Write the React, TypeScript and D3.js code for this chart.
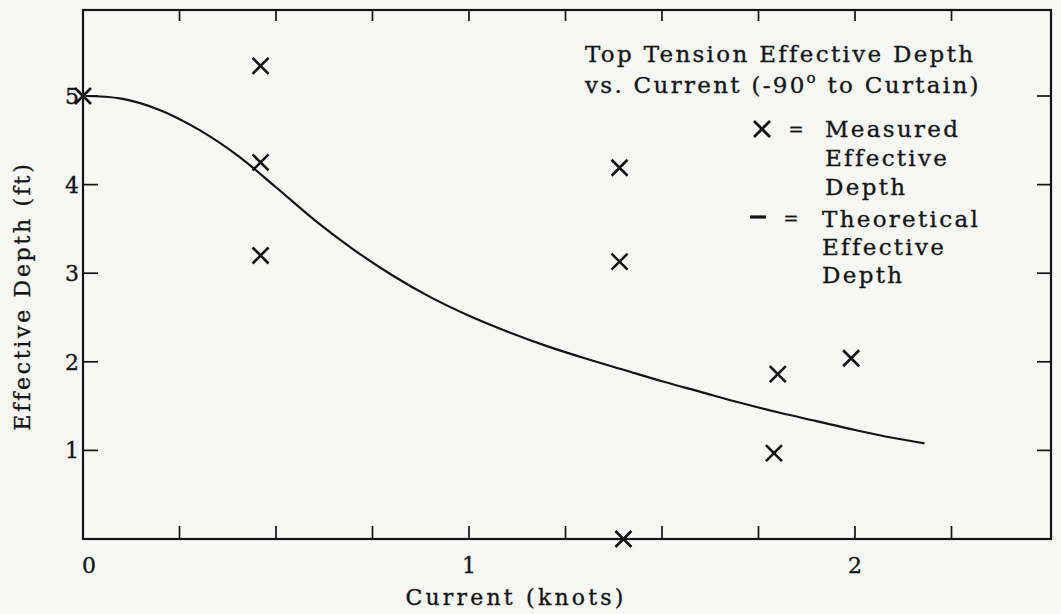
import React, { useEffect } from "react";
import * as d3 from "d3";

// measured points (knots, ft)
const measuredX = [0, 0.46, 0.46, 0.46, 1.39, 1.39, 1.4, 1.8, 1.79, 1.99];
const measuredY = [5.0, 5.34, 4.25, 3.2, 4.19, 3.13, 0.0, 1.86, 0.97, 2.04];

// theoretical curve (knots, ft)
const curveX = [0, 0.1, 0.2, 0.3, 0.4, 0.5, 0.6, 0.7, 0.8, 0.9, 1.0, 1.1, 1.2, 1.3, 1.4, 1.5, 1.6, 1.7, 1.8, 1.9, 2.0, 2.1, 2.18];
const curveY = [5.0, 4.97, 4.84, 4.62, 4.33, 3.97, 3.6, 3.27, 2.98, 2.73, 2.52, 2.34, 2.18, 2.04, 1.91, 1.78, 1.66, 1.54, 1.43, 1.33, 1.23, 1.14, 1.08];

const xTicks = [0.25, 0.5, 0.75, 1, 1.25, 1.5, 1.75, 2, 2.25];
const xLabels = [0, 1, 2];
const yTicks = [1, 2, 3, 4, 5];

const titleLines = ["Top Tension Effective Depth", "vs. Current (-90"];
const legendMeasured = ["Measured", "Effective", "Depth"];
const legendTheory = ["Theoretical", "Effective", "Depth"];

const W = 1061;
const H = 614;
const left = 83;
const right = 1051;
const top = 10;
const bottom = 539;
const ink = "#141414";
const font = "'DejaVu Serif', serif";

const App: React.FC = () => {
  useEffect(() => {
    document.body.style.margin = "0";
  }, []);

  const x = d3.scaleLinear().domain([0, 2]).range([left, 855]);
  const y = d3.scaleLinear().domain([0, 5]).range([bottom, 96]);

  const line = d3
    .line<number>()
    .x((_, i) => x(curveX[i]))
    .y((d) => y(d))
    .curve(d3.curveCatmullRom.alpha(0.5));

  const cross = (cx: number, cy: number, r: number) =>
    `M${cx - r},${cy - r}L${cx + r},${cy + r}M${cx - r},${cy + r}L${cx + r},${cy - r}`;

  // slight stroke to mimic the heavier print
  const txt = { fontFamily: font, fill: ink, stroke: ink, strokeWidth: 0.35 } as const;

  return (
    <svg width={W} height={H} style={{ display: "block", background: "#f7f7f6" }}>
      {/* frame */}
      <rect x={left} y={top} width={right - left} height={bottom - top} fill="none" stroke={ink} strokeWidth={2.2} />

      {/* ticks */}
      {xTicks.map((t) => (
        <g key={"xt" + t} stroke={ink} strokeWidth={1.7}>
          <line x1={x(t)} x2={x(t)} y1={bottom} y2={bottom - 13} />
          <line x1={x(t)} x2={x(t)} y1={top} y2={top + 11} />
        </g>
      ))}
      {yTicks.map((t) => (
        <g key={"yt" + t} stroke={ink} strokeWidth={1.7}>
          <line x1={left} x2={left + 15} y1={y(t)} y2={y(t)} />
          <line x1={right} x2={right - 14} y1={y(t)} y2={y(t)} />
        </g>
      ))}

      {/* tick labels */}
      {xLabels.map((t) => (
        <text key={"xl" + t} x={x(t) + (t === 0 ? 6 : 0)} y={573} textAnchor="middle" fontSize={22} {...txt}>
          {t}
        </text>
      ))}
      {yTicks.map((t) => (
        <text key={"yl" + t} x={79} y={y(t) + 8} textAnchor="end" fontSize={22} {...txt}>
          {t}
        </text>
      ))}

      {/* axis titles */}
      <text x={516} y={605} textAnchor="middle" fontSize={22} letterSpacing={3.2} {...txt}>
        Current (knots)
      </text>
      <text
        transform={`translate(30,296) rotate(-90)`}
        textAnchor="middle"
        fontSize={22}
        letterSpacing={2.7}
        {...txt}
      >
        Effective Depth (ft)
      </text>

      {/* theoretical curve */}
      <path d={line(curveY) || ""} fill="none" stroke={ink} strokeWidth={2.2} />

      {/* measured points */}
      {measuredX.map((mx, i) => (
        <path key={"m" + i} d={cross(x(mx), y(measuredY[i]), 8)} stroke={ink} strokeWidth={2.6} fill="none" />
      ))}

      {/* title */}
      <text x={585} y={62} fontSize={23} letterSpacing={2.3} {...txt}>
        {titleLines[0]}
      </text>
      <text x={585} y={93} fontSize={23} letterSpacing={2.3} {...txt}>
        {titleLines[1]}
        <tspan dy={-10} fontSize={15}>o</tspan>
        <tspan dy={10}> to Curtain)</tspan>
      </text>

      {/* legend */}
      <path d={cross(762, 129, 8)} stroke={ink} strokeWidth={2.8} fill="none" />
      <text x={796} y={136} fontSize={18} textAnchor="middle" {...txt}>=</text>
      {legendMeasured.map((s, i) => (
        <text key={"lm" + i} x={825} y={137 + i * 29} fontSize={23} letterSpacing={2.3} {...txt}>
          {s}
        </text>
      ))}
      <line x1={750} x2={766} y1={217} y2={217} stroke={ink} strokeWidth={3.2} />
      <text x={791} y={225} fontSize={18} textAnchor="middle" {...txt}>=</text>
      {legendTheory.map((s, i) => (
        <text key={"lt" + i} x={822} y={227 + i * 28} fontSize={23} letterSpacing={2.3} {...txt}>
          {s}
        </text>
      ))}
    </svg>
  );
};

export default App;
